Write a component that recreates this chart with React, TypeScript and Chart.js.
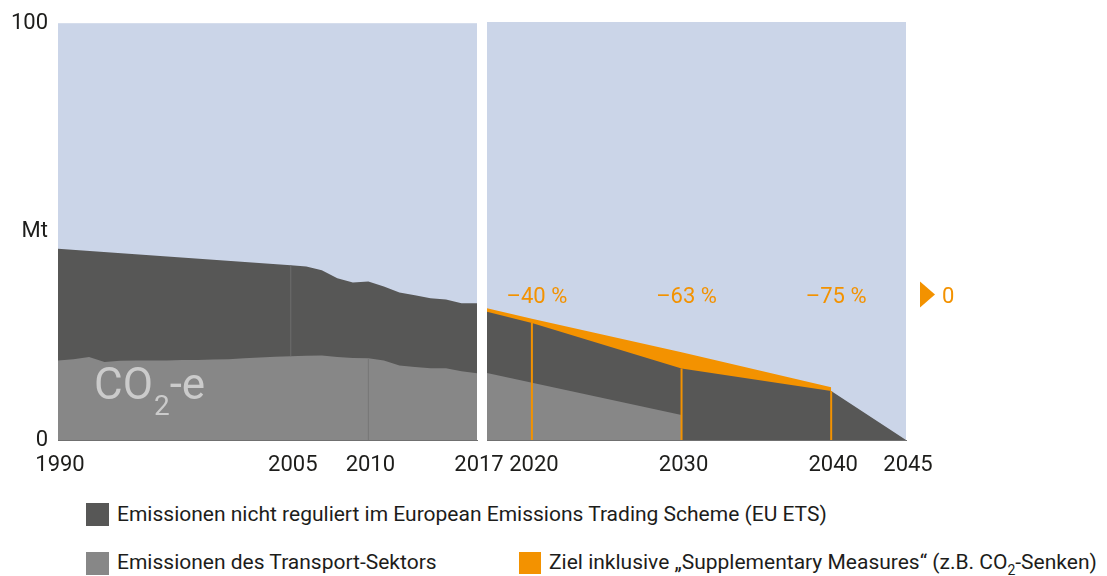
import React, { useEffect, useRef } from "react";
import { Chart, registerables } from "chart.js";

Chart.register(...registerables);

const FONT = "Roboto, 'Liberation Sans', Arial, sans-serif";
const TEXT = "#1d1d1b";
const BG = "#cbd5e8";
const DARK = "#575756";
const LIGHT = "#878787";
const ORANGE = "#f39200";

// ---- Historical panel (1990–2017), Mt CO2-e ----
const transportYears = [1990, 1991, 1992, 1993, 1994, 1995, 1996, 1997, 1998, 1999, 2000, 2001, 2002, 2003, 2004, 2005, 2006, 2007, 2008, 2009, 2010, 2011, 2012, 2013, 2014, 2015, 2016, 2017];
const transportValues = [19.1, 19.4, 19.9, 18.7, 19.0, 19.1, 19.1, 19.1, 19.2, 19.2, 19.3, 19.4, 19.6, 19.8, 20.0, 20.1, 20.2, 20.3, 19.9, 19.7, 19.6, 19.1, 17.9, 17.5, 17.2, 17.2, 16.5, 16.0];
const nonEtsYears = [1990, 2005, 2006, 2007, 2008, 2009, 2010, 2011, 2012, 2013, 2014, 2015, 2016, 2017];
const nonEtsValues = [45.9, 41.9, 41.6, 40.7, 38.8, 37.8, 38.0, 36.8, 35.4, 34.7, 34.0, 33.7, 32.8, 32.8];
const histTickYears = [1990, 2005, 2010, 2017];

// ---- Projection panel (2017–2045) ----
const projNonEtsYears = [2017, 2020, 2030, 2040, 2045];
const projNonEtsValues = [30.7, 28.0, 17.1, 11.7, 0];
const projTransportYears = [2017, 2030];
const projTransportValues = [16.0, 6.0];
const targetYears = [2017, 2020, 2030, 2040];
const targetValues = [31.5, 29.0, 21.0, 12.6];
const targetLabelYears = [2020, 2030, 2040];
const targetLabels = ["–40 %", "–63 %", "–75 %"];
const finalLabel = "0";
const projTickYears = [2020, 2030, 2040, 2045];

const yTickValues = [0, 50, 100];
const yTickLabels = ["0", "Mt", "100"];

const pts = (xs: number[], ys: number[]) => xs.map((x, i) => ({ x, y: ys[i] }));
const valAt = (xs: number[], ys: number[], x: number) => ys[xs.indexOf(x)];

const bgPlugin = {
  id: "panelBg",
  beforeDraw(chart: any) {
    const { ctx, chartArea: a } = chart;
    ctx.save();
    ctx.fillStyle = BG;
    ctx.fillRect(a.left, a.top, a.right - a.left, a.bottom - a.top);
    ctx.restore();
  },
};

const co2Plugin = {
  id: "co2Label",
  afterDatasetsDraw(chart: any) {
    const { ctx, chartArea: a } = chart;
    ctx.save();
    ctx.fillStyle = "#cbcbcb";
    ctx.textBaseline = "alphabetic";
    ctx.textAlign = "left";
    const x0 = a.left + 36;
    const base = a.bottom - 41;
    ctx.font = `44px ${FONT}`;
    ctx.fillText("CO", x0, base);
    const w1 = ctx.measureText("CO").width;
    ctx.font = `28px ${FONT}`;
    ctx.fillText("2", x0 + w1 + 1, base + 16);
    const w2 = ctx.measureText("2").width;
    ctx.font = `44px ${FONT}`;
    ctx.fillText("-e", x0 + w1 + w2 + 1, base);
    ctx.restore();
  },
};

const targetPlugin = {
  id: "targetLabels",
  afterDatasetsDraw(chart: any) {
    const { ctx, chartArea: a, scales } = chart;
    const xs = scales.x;
    const ys = scales.y;
    ctx.save();
    ctx.fillStyle = ORANGE;
    ctx.font = `22px ${FONT}`;
    ctx.textAlign = "center";
    ctx.textBaseline = "alphabetic";
    const base = ys.getPixelForValue(32.8);
    targetLabelYears.forEach((yr, i) => {
      ctx.fillText(targetLabels[i], xs.getPixelForValue(yr) + 5, base);
    });
    const tx = a.right + 14;
    const mid = base - 8.5;
    ctx.beginPath();
    ctx.moveTo(tx, mid - 13);
    ctx.lineTo(tx + 15, mid);
    ctx.lineTo(tx, mid + 13);
    ctx.closePath();
    ctx.fill();
    ctx.textAlign = "left";
    ctx.fillText(finalLabel, tx + 22, base);
    ctx.restore();
  },
};

const hidden = "rgba(0,0,0,0)";

function xScale(min: number, max: number, ticks: number[], height: number) {
  return {
    type: "linear",
    min,
    max,
    grid: { display: false, drawTicks: false },
    border: { display: true, color: "#707070", width: 1 },
    afterBuildTicks: (s: any) => {
      s.ticks = ticks.map((v) => ({ value: v }));
    },
    afterFit: (s: any) => {
      s.height = height;
    },
    ticks: {
      autoSkip: false,
      maxRotation: 0,
      minRotation: 0,
      padding: 12,
      labelOffset: 2,
      color: TEXT,
      font: { family: FONT, size: 22 },
      callback: (v: any) => String(v),
    },
  };
}

function baseOptions() {
  return {
    animation: false,
    responsive: false,
    maintainAspectRatio: false,
    events: [],
    plugins: { legend: { display: false }, tooltip: { enabled: false } },
    elements: { point: { radius: 0 }, line: { tension: 0 } },
  };
}

function LeftChart() {
  const ref = useRef<HTMLCanvasElement>(null);
  useEffect(() => {
    const chart = new Chart(ref.current as HTMLCanvasElement, {
      type: "line",
      data: {
        datasets: [
          {
            data: [
              { x: 2005, y: valAt(transportYears, transportValues, 2005) },
              { x: 2005, y: valAt(nonEtsYears, nonEtsValues, 2005) },
            ],
            borderColor: "#6d6d6c",
            borderWidth: 1,
            fill: false,
            order: 0,
          },
          {
            data: [
              { x: 2010, y: 0 },
              { x: 2010, y: valAt(transportYears, transportValues, 2010) },
            ],
            borderColor: "#777777",
            borderWidth: 1,
            fill: false,
            order: 0,
          },
          {
            label: "Emissionen des Transport-Sektors",
            data: pts(transportYears, transportValues),
            backgroundColor: LIGHT,
            borderColor: hidden,
            borderWidth: 1,
            fill: "origin",
            order: 1,
          },
          {
            label: "Emissionen nicht reguliert im EU ETS",
            data: pts(nonEtsYears, nonEtsValues),
            backgroundColor: DARK,
            borderColor: hidden,
            borderWidth: 1,
            fill: "origin",
            order: 2,
          },
        ],
      } as any,
      options: {
        ...baseOptions(),
        layout: { padding: { top: 22, left: 0, right: 63, bottom: 0 } },
        scales: {
          x: xScale(1990, 2017, histTickYears, 40),
          y: {
            type: "linear",
            min: 0,
            max: 100,
            grid: { display: false, drawTicks: false },
            border: { display: false },
            afterBuildTicks: (s: any) => {
              s.ticks = yTickValues.map((v) => ({ value: v }));
            },
            afterFit: (s: any) => {
              s.width = 58;
            },
            ticks: {
              padding: 10,
              color: TEXT,
              font: { family: FONT, size: 22 },
              callback: (v: any) => yTickLabels[yTickValues.indexOf(v)],
            },
          },
        },
      } as any,
      plugins: [bgPlugin, co2Plugin],
    });
    return () => chart.destroy();
  }, []);
  return (
    <canvas
      ref={ref}
      width={540}
      height={480}
      style={{ position: "absolute", left: 0, top: 0, width: 540, height: 480 }}
    />
  );
}

function RightChart() {
  const ref = useRef<HTMLCanvasElement>(null);
  useEffect(() => {
    const markers = targetLabelYears.map((yr) => ({
      data: [
        { x: yr, y: 0 },
        { x: yr, y: valAt(projNonEtsYears, projNonEtsValues, yr) },
      ],
      borderColor: ORANGE,
      borderWidth: 2,
      fill: false,
      order: -1,
    }));
    const chart = new Chart(ref.current as HTMLCanvasElement, {
      type: "line",
      data: {
        datasets: [
          ...markers,
          {
            label: "Emissionen des Transport-Sektors",
            data: pts(projTransportYears, projTransportValues),
            backgroundColor: LIGHT,
            borderColor: hidden,
            borderWidth: 1,
            fill: "origin",
            order: 0,
          },
          {
            label: "Emissionen nicht reguliert im EU ETS",
            data: pts(projNonEtsYears, projNonEtsValues),
            backgroundColor: DARK,
            borderColor: hidden,
            borderWidth: 1,
            fill: "origin",
            order: 1,
          },
          {
            label: "Ziel inklusive Supplementary Measures",
            data: pts(targetYears, targetValues),
            backgroundColor: ORANGE,
            borderColor: hidden,
            borderWidth: 1,
            fill: "origin",
            order: 2,
          },
        ],
      } as any,
      options: {
        ...baseOptions(),
        layout: { padding: { top: 22, left: 47, right: 201, bottom: 0 } },
        scales: {
          x: xScale(2017, 2045, projTickYears, 40),
          y: { type: "linear", min: 0, max: 100, display: false },
        },
      } as any,
      plugins: [bgPlugin, targetPlugin],
    });
    return () => chart.destroy();
  }, []);
  return (
    <canvas
      ref={ref}
      width={667}
      height={480}
      style={{ position: "absolute", left: 440, top: 0, width: 667, height: 480 }}
    />
  );
}

const legendText: React.CSSProperties = {
  position: "absolute",
  fontFamily: FONT,
  fontSize: 21,
  lineHeight: "23px",
  height: 23,
  color: TEXT,
  whiteSpace: "nowrap",
};

function Swatch({ left, top, size, color }: { left: number; top: number; size: number; color: string }) {
  return <div style={{ position: "absolute", left, top, width: size, height: size, background: color }} />;
}

export default function App() {
  return (
    <div style={{ position: "absolute", left: 0, top: 0, width: 1107, height: 576, overflow: "hidden", background: "#fff" }}>
      <LeftChart />
      <RightChart />
      <Swatch left={86} top={503} size={23} color={DARK} />
      <div style={{ ...legendText, left: 117, top: 503 }}>
        Emissionen nicht reguliert im European Emissions Trading Scheme (EU ETS)
      </div>
      <Swatch left={86} top={552} size={23} color={LIGHT} />
      <div style={{ ...legendText, left: 117, top: 551 }}>Emissionen des Transport-Sektors</div>
      <Swatch left={519} top={552} size={22} color={ORANGE} />
      <div style={{ ...legendText, left: 549, top: 551 }}>
        Ziel inklusive „Supplementary Measures“ (z.B. CO
        <span style={{ fontSize: 14, position: "relative", top: 6 }}>2</span>-Senken)
      </div>
    </div>
  );
}
